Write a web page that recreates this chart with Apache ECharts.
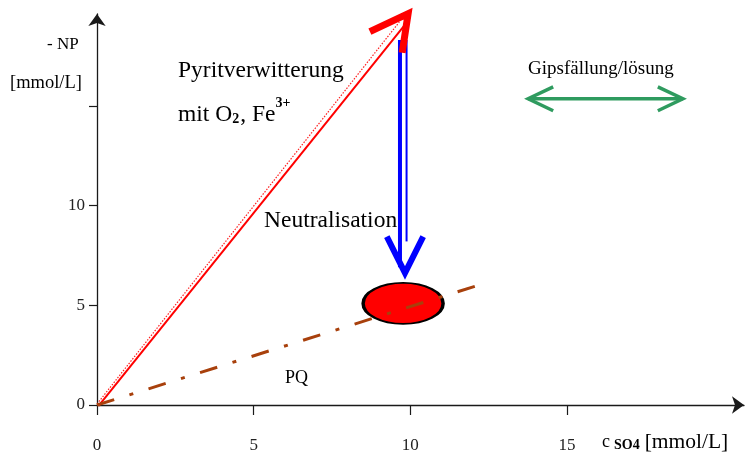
<!DOCTYPE html>
<html><head><meta charset="utf-8">
<script src="https://cdn.jsdelivr.net/npm/echarts@6/dist/echarts.min.js"></script>
<style>html,body{margin:0;padding:0;background:#fff}#c{width:750px;height:455px}</style>
</head><body><div id="c"></div>
<script>
// ---- data (axis units) ----
const xTicks = [0, 5, 10, 15];
const yTicks = [0, 5, 10, 15];
const yTickLabels = [0, 5, 10];
const xMax = 20.65, yMax = 19.6;

const pyriteLine = [[0.05, -0.05], [9.8, 19.0]];
const pyriteLineDotted = [[0, 0.05], [9.65, 19.2]];
const pyriteHead = [[8.71, 18.72], [9.93, 19.62], [9.74, 17.66]];

const neutralShaftA = [[9.67, 18.3], [9.67, 6.9]];
const neutralShaftB = [[9.88, 18.3], [9.88, 8.2]];
const neutralHead = [[9.25, 8.44], [9.83, 6.62], [10.41, 8.44]];

const pqLine = [[0, 0], [12.16, 6.0]];
const targetPoint = [[9.77, 5.09]];

const gypsumShaft = [[13.76, 15.35], [18.70, 15.35]];
const gypsumHeadL = [[14.56, 15.95], [13.76, 15.35], [14.56, 14.75]];
const gypsumHeadR = [[17.90, 15.95], [18.70, 15.35], [17.90, 14.75]];

// ---- helpers ----
const FONT = '"Liberation Serif", "Times New Roman", serif';
function line(data, color, width, type, z) {
  return {type: 'line', data, symbol: 'none', clip: false, silent: true, animation: false, z,
    lineStyle: {color, width, type: type || 'solid', cap: 'butt', join: 'miter'}};
}
const ctx = document.createElement('canvas').getContext('2d');
function run(x, y, parts) {
  const out = [];
  let cx = x;
  parts.forEach(p => {
    const font = (p.bold ? 'bold ' : '') + p.size + 'px ' + FONT;
    out.push({type: 'text', x: cx, y: y + (p.dy || 0), silent: true,
      style: {text: p.t, font, fill: '#000', textAlign: 'left', textVerticalAlign: 'middle', align: 'left', verticalAlign: 'middle'}});
    ctx.font = font;
    cx += ctx.measureText(p.t).width + (p.gap || 0);
  });
  return out;
}

const chart = echarts.init(document.getElementById('c'), null, {renderer: 'canvas'});
const axisCommon = {
  type: 'value', min: 0, interval: 5,
  splitLine: {show: false},
  axisLine: {show: true, onZero: false, symbol: ['none', 'arrow'], symbolSize: [13, 12],
    lineStyle: {color: '#1a1a1a', width: 1.3}},
};
chart.setOption({
  animation: false,
  backgroundColor: '#fff',
  grid: {left: 97, right: 6, top: 14, bottom: 50, containLabel: false},
  xAxis: Object.assign({}, axisCommon, {max: xMax,
    axisTick: {show: true, length: 10, customValues: xTicks, lineStyle: {color: '#1a1a1a', width: 1.2}},
    axisLabel: {show: true, margin: 32, customValues: xTicks, color: '#222', fontSize: 17, fontFamily: FONT}}),
  yAxis: Object.assign({}, axisCommon, {max: yMax,
    axisTick: {show: true, length: 8, customValues: yTicks, lineStyle: {color: '#1a1a1a', width: 1.2}},
    axisLabel: {show: true, margin: 12, customValues: yTickLabels, color: '#222', fontSize: 17, fontFamily: FONT}}),
  series: [
    line(pyriteLineDotted, '#ff2020', 1.2, [1.5, 1.5], 3),
    line(pyriteLine, '#ff0000', 2, 'solid', 3),
    line(neutralShaftA, '#0000ff', 4, 'solid', 4),
    line(neutralShaftB, '#0000ff', 2, 'solid', 4),
    line(neutralHead, '#0000ff', 6, 'solid', 4),
    {type: 'scatter', data: targetPoint, symbol: 'circle', symbolSize: [80, 41], silent: true, z: 5,
      animation: false, itemStyle: {color: '#ff0000', borderColor: '#000', borderWidth: 2.5, opacity: 1}},
    line(pqLine, '#a8400c', 3, [18, 16, 4, 16], 6),
    line(pyriteHead, '#ff0000', 7, 'solid', 7),
    line(gypsumShaft, '#2f9b5f', 3.5, 'solid', 4),
    line(gypsumHeadL, '#2f9b5f', 3.5, 'solid', 4),
    line(gypsumHeadR, '#2f9b5f', 3.5, 'solid', 4)
  ],
  graphic: [].concat(
    run(47, 45, [{t: '- NP', size: 17}]),
    run(10, 83, [{t: '[mmol/L]', size: 18.5}]),
    run(178, 71, [{t: 'Pyritverwitterung', size: 23.5}]),
    run(178, 115, [{t: 'mit O', size: 23.5}, {t: '2', size: 14, bold: true, dy: 4, gap: 1}, {t: ', Fe', size: 23.5}, {t: '3+', size: 14, bold: true, dy: -12}]),
    run(264, 221, [{t: 'Neutralisation', size: 23.5}]),
    run(528, 69, [{t: 'Gipsfällung/lösung', size: 19}]),
    run(285, 378, [{t: 'PQ', size: 18}]),
    run(602, 442, [{t: 'c', size: 18, gap: 4}, {t: 'SO4', size: 14, bold: true, dy: 3, gap: 5}, {t: '[mmol/L]', size: 21.5}])
  )
});
</script></body></html>
